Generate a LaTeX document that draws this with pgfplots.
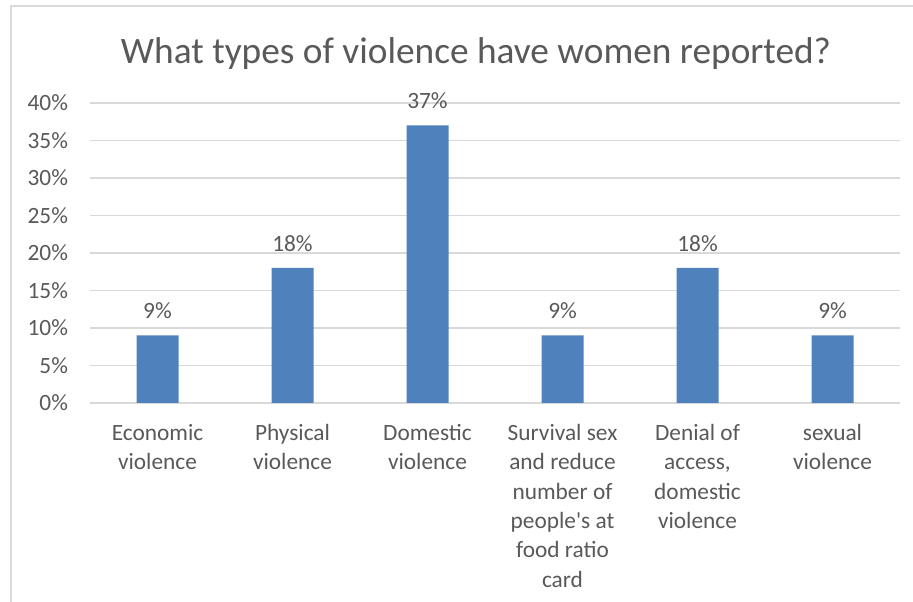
\documentclass[border=0pt]{standalone}
\usepackage{pgfplots}
\pgfplotsset{compat=1.18}
\usepackage{fontspec}
\setmainfont{Carlito}
\definecolor{barblue}{HTML}{4F81BD}
\definecolor{txt}{HTML}{595959}
\definecolor{grid}{HTML}{D9D9D9}
\begin{document}
\begin{tikzpicture}[x=0.75pt,y=0.75pt]
\path[use as bounding box] (0,0) rectangle (913,602);
\begin{scope}
\clip (0,0) rectangle (913,602);
\draw[color=grid, line width=1.2pt] (11,-20) rectangle (940,596);
\end{scope}
\node[text=txt, font=\fontsize{28}{32}\selectfont] at (476,548) {What types of violence have women reported?};
\begin{axis}[
  at={(90*0.75pt,199*0.75pt)}, anchor=south west,
  scale only axis, width=607.5pt, height=225pt,
  ymin=0, ymax=40, xmin=-0.5, xmax=5.5,
  ytick={0,5,...,40},
  yticklabel={\pgfmathprintnumber{\tick}\%},
  /pgf/number format/assume math mode=true,
  xtick=data,
  xticklabels={{Economic\\violence},{Physical\\violence},{Domestic\\violence},{Survival sex\\and reduce\\number of\\people\textquotesingle s at\\food ratio\\card},{Denial of\\access,\\domestic\\violence},{sexual\\violence}},
  xticklabel style={align=center, text=txt, font=\fontsize{17.5}{22}\selectfont, anchor=north, yshift=-12.5pt},
  yticklabel style={text=txt, font=\fontsize{17.5}{20}\selectfont, xshift=-13pt},
  major tick length=0pt,
  ymajorgrids, grid style={color=grid, line width=0.9pt},
  axis x line*=bottom, axis y line*=left,
  y axis line style={draw=none},
  x axis line style={color=grid, line width=0.9pt, -},
  ybar, bar width=31.5pt,
  nodes near coords={\pgfmathprintnumber{\pgfplotspointmeta}\%},
  nodes near coords style={text=txt, font=\fontsize{17.5}{20}\selectfont, /pgf/number format/assume math mode=true, yshift=9pt},
  clip=false,
]
\addplot[fill=barblue, draw=none] coordinates {(0,9) (1,18) (2,37) (3,9) (4,18) (5,9)};
\end{axis}
\end{tikzpicture}
\end{document}
